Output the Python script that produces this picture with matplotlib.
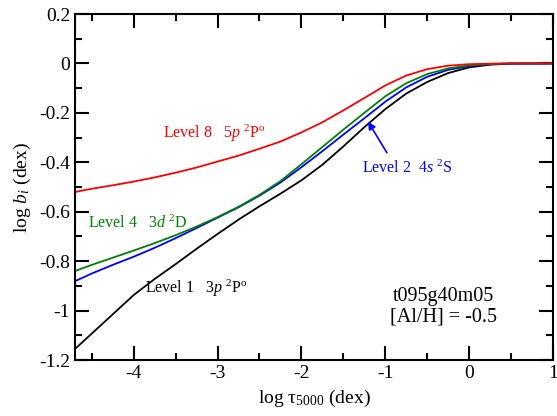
import matplotlib
matplotlib.use('Agg')
import matplotlib.pyplot as plt
from matplotlib.ticker import MultipleLocator

plt.rcParams['font.family'] = ['Liberation Serif', 'DejaVu Serif']
plt.rcParams['mathtext.fontset'] = 'custom'
plt.rcParams['mathtext.rm'] = 'Liberation Serif'
plt.rcParams['mathtext.it'] = 'Liberation Serif:italic'
plt.rcParams['mathtext.bf'] = 'Liberation Serif:bold'

# log tau_5000
log_tau = [-4.7, -4.5, -4.25, -4.0, -3.75, -3.5, -3.25, -3.0, -2.75, -2.5, -2.25,
           -2.0, -1.75, -1.5, -1.25, -1.0, -0.75, -0.5, -0.25, 0.0, 0.25, 0.5, 1.0]

# log b_i for each level
level1 = [-1.155, -1.093, -1.015, -0.937, -0.872, -0.812, -0.750, -0.690, -0.632, -0.578, -0.527,
          -0.473, -0.410, -0.336, -0.258, -0.185, -0.122, -0.075, -0.039, -0.016, -0.005, -0.001, 0.0]
level2 = [-0.881, -0.850, -0.815, -0.782, -0.746, -0.707, -0.666, -0.624, -0.582, -0.535, -0.482,
          -0.420, -0.355, -0.288, -0.222, -0.155, -0.097, -0.054, -0.026, -0.011, -0.003, 0.0, 0.0]
level4 = [-0.840, -0.815, -0.786, -0.757, -0.727, -0.695, -0.660, -0.622, -0.580, -0.532, -0.476,
          -0.408, -0.338, -0.268, -0.200, -0.133, -0.080, -0.043, -0.020, -0.008, -0.002, 0.0, 0.0]
level8 = [-0.520, -0.507, -0.493, -0.478, -0.461, -0.442, -0.421, -0.397, -0.373, -0.345, -0.316,
          -0.279, -0.238, -0.190, -0.140, -0.089, -0.049, -0.023, -0.009, -0.003, -0.001, 0.0, 0.0]

fig = plt.figure(figsize=(5.57, 4.16), dpi=100)
ax = fig.add_axes([0.1347, 0.1346, 0.858, 0.8317])

ax.plot(log_tau, level1, color='black', lw=1.3)
ax.plot(log_tau, level2, color='blue', lw=1.3)
ax.plot(log_tau, level4, color='green', lw=1.3)
ax.plot(log_tau, level8, color='red', lw=1.3)

ax.set_xlim(-4.7, 1.0)
ax.set_ylim(-1.2, 0.2)
ax.xaxis.set_major_locator(MultipleLocator(1))
ax.xaxis.set_minor_locator(MultipleLocator(0.5))
ax.yaxis.set_major_locator(MultipleLocator(0.2))
ax.yaxis.set_minor_locator(MultipleLocator(0.1))
ax.yaxis.set_major_formatter(plt.FuncFormatter(lambda v, p: '%g' % round(v, 2) if abs(v) > 1e-9 else '0'))
ax.xaxis.set_major_formatter(plt.FuncFormatter(lambda v, p: '%g' % v if abs(v) > 1e-9 else '0'))
ax.tick_params(which='both', direction='in', top=True, right=True, labelsize=14, width=1.5)
ax.tick_params(which='major', length=10)
ax.tick_params(which='minor', length=5)
for s in ax.spines.values():
    s.set_linewidth(1.5)

ax.set_xlabel('log τ$_{5000}$ (dex)', fontsize=14)
ax.set_ylabel('log $b_i$ (dex)', fontsize=14)

fs = 11.5
ax.text(-3.65, -0.282, r'Level 8   $5p\ ^{2}\mathrm{P}^{\mathrm{o}}$', color='red', fontsize=fs, va='center')
ax.text(-4.55, -0.646, r'Level 4   $3d\ ^{2}\mathrm{D}$', color='green', fontsize=fs, va='center')
ax.text(-3.86, -0.909, r'Level 1   $3p\ ^{2}\mathrm{P}^{\mathrm{o}}$', color='black', fontsize=fs, va='center')
ax.text(-1.28, -0.425, r'Level 2  $4s\ ^{2}\mathrm{S}$', color='blue', fontsize=fs, va='center')
ax.annotate('', xy=(-1.222, -0.226), xytext=(-0.963, -0.371),
            arrowprops=dict(arrowstyle='-|>', color='blue', lw=1.2, mutation_scale=11))

ax.text(-0.30, -0.945, 't095g40m05', fontsize=14.5, ha='center', va='center')
ax.text(-0.30, -1.026, '[Al/H] = -0.5', fontsize=14.5, ha='center', va='center')

fig.savefig('out.png', dpi=100)
